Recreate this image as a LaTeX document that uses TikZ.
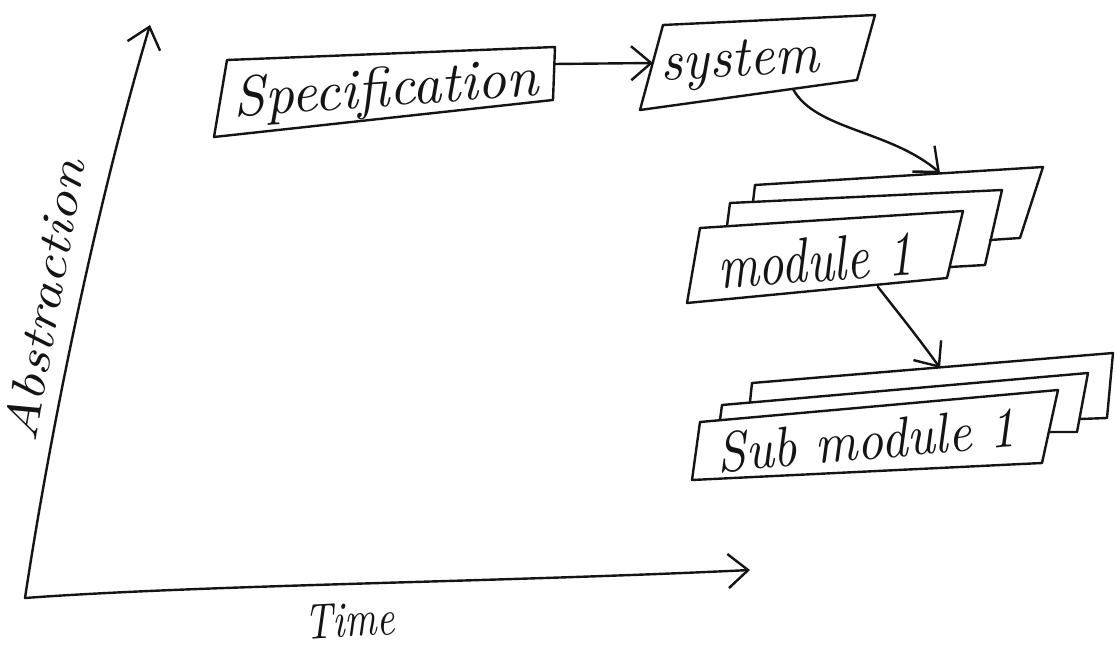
\documentclass[tikz,border=0pt]{standalone}
\usetikzlibrary{arrows.meta}
\begin{document}
\begin{tikzpicture}[x=1pt,y=-1pt,
  ink/.style={line width=2.4pt, line cap=round, line join=round, black!92},
  hand/.style={inner sep=0pt, font=\itshape, text=black!92},
  barb/.style={-{Straight Barb[length=20pt,width=34pt]}},
]
\useasboundingbox[fill=white] (0,0) rectangle (1117,652);

% axes
\coordinate (O) at (25,598);
\coordinate (ytip) at (150,25);
\coordinate (xtip) at (750,570);
\draw[ink,barb] (O) .. controls (52,420) and (98,200) .. (ytip);
\draw[ink,barb] (O) .. controls (200,585) and (500,582) .. (xtip);
\node[hand, rotate=80] (abs) at (44,300) {\resizebox{285pt}{34pt}{Abstraction}};
\node[hand, rotate=3] (time) at (350,620) {\resizebox{90pt}{34pt}{Time}};

% specification
\draw[ink] (227,60) -- (555,47) -- (553,100) -- (214,137) -- cycle;
\node[hand, rotate=4] (spec) at (386,92) {\resizebox{305pt}{40pt}{Specification}};

% system
\draw[ink] (663,25) -- (875,15) -- (857,80) -- (640,110) -- cycle;
\node[hand, rotate=3] (sys) at (740,64) {\resizebox{158pt}{36pt}{system}};

% spec -> system
\coordinate (sout) at (554,64);
\coordinate (sin) at (653,63);
\draw[ink,barb] (sout) -- (sin);

% module stack
\draw[ink] (753,202) -- (755,185) -- (1043,167) -- (1020,238) -- (990,240);
\draw[ink] (727,226) -- (730,203) -- (1002,190) -- (985,265) -- (950,267);
\draw[ink] (700,228) -- (963,211) -- (947,278) -- (687,303) -- cycle;
\node[hand, rotate=4] (mod) at (815,260) {\resizebox{195pt}{44pt}{module 1}};

% system -> module
\coordinate (ysout) at (793,89);
\coordinate (mtip) at (940,173);
\draw[ink,barb] (ysout) .. controls (815,130) and (890,130) .. (mtip);

% submodule stack
\draw[ink] (750,402) -- (752,383) -- (1113,353) -- (1107,418) -- (1080,419);
\draw[ink] (720,420) -- (722,405) -- (1088,373) -- (1077,432) -- (1049,432);
\draw[ink] (700,422) -- (1058,390) -- (1042,463) -- (692,480) -- cycle;
\node[hand, rotate=5] (sub) at (866,440) {\resizebox{300pt}{40pt}{Sub module 1}};

% module -> submodule
\coordinate (mout) at (878,287);
\coordinate (stip) at (940,368);
\draw[ink,barb] (mout) .. controls (900,315) and (920,340) .. (stip);
\end{tikzpicture}
\end{document}
